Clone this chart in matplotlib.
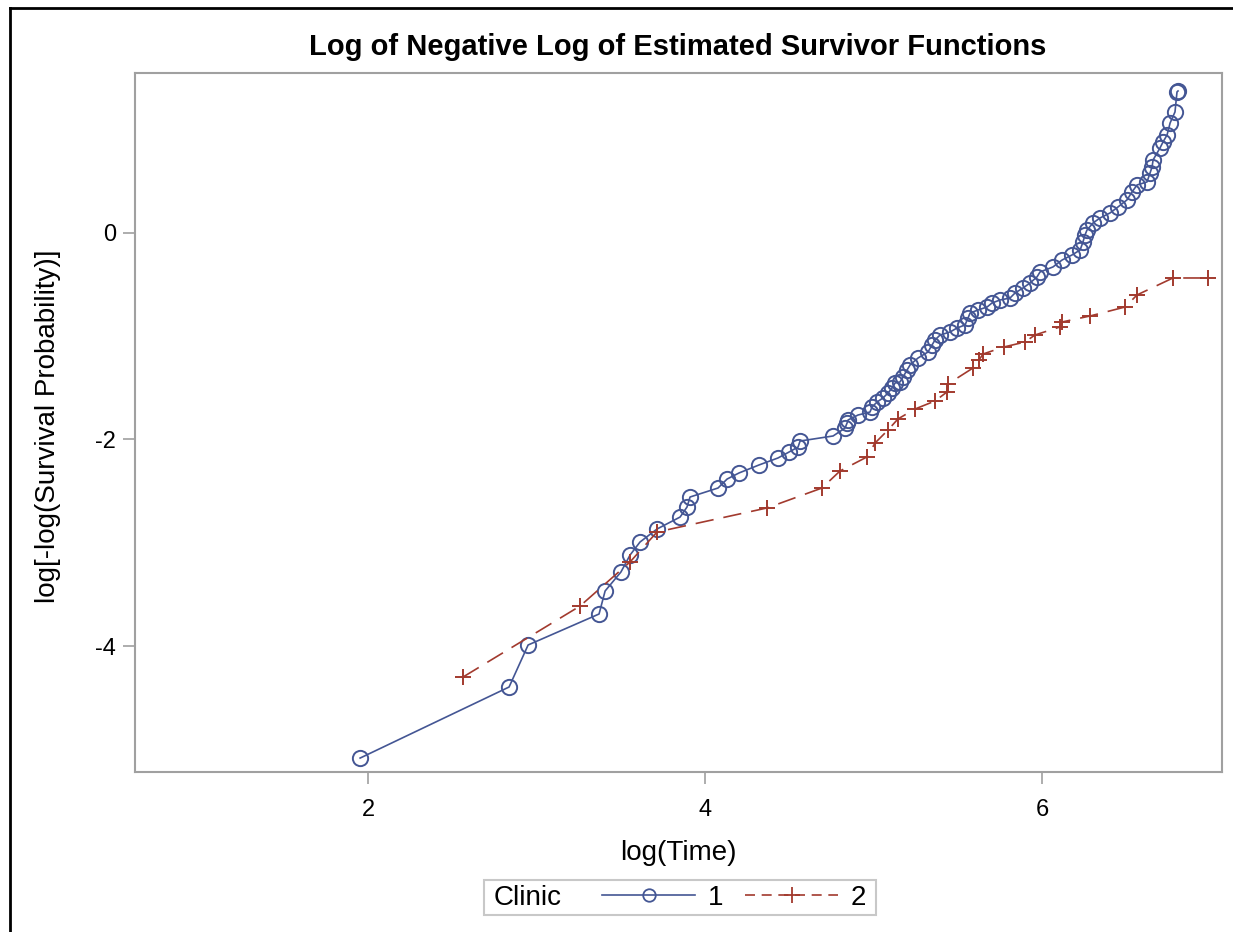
import matplotlib
matplotlib.use("Agg")
import matplotlib.pyplot as plt
from matplotlib.lines import Line2D
from matplotlib.patches import Rectangle

plt.rcParams['font.family'] = ['Liberation Sans', 'DejaVu Sans']

# Clinic 1 (blue circles)
c1_x = [1.953, 2.837, 2.950, 3.371, 3.407, 3.501, 3.555, 3.614, 3.715, 3.852, 3.893, 3.911,
        4.077, 4.131, 4.202, 4.320, 4.433, 4.499, 4.552, 4.564, 4.760, 4.831, 4.843, 4.849,
        4.908, 4.979, 4.991, 5.021, 5.056, 5.086, 5.110, 5.128, 5.157, 5.175, 5.199, 5.217,
        5.264, 5.323, 5.347, 5.365, 5.395, 5.454, 5.496, 5.543, 5.561, 5.573, 5.620, 5.674,
        5.703, 5.751, 5.810, 5.840, 5.887, 5.929, 5.970, 5.988, 6.065, 6.119, 6.178, 6.226,
        6.243, 6.255, 6.267, 6.303, 6.344, 6.404, 6.451, 6.504, 6.534, 6.564, 6.623, 6.641,
        6.653, 6.659, 6.700, 6.718, 6.742, 6.760, 6.789, 6.801, 6.807]
c1_y = [-5.085, -4.397, -3.990, -3.690, -3.467, -3.283, -3.119, -2.993, -2.867, -2.751, -2.654, -2.557,
        -2.470, -2.383, -2.324, -2.247, -2.179, -2.121, -2.073, -2.015, -1.966, -1.889, -1.840, -1.811,
        -1.763, -1.734, -1.685, -1.637, -1.598, -1.550, -1.501, -1.453, -1.443, -1.395, -1.327, -1.278,
        -1.211, -1.153, -1.085, -1.036, -0.988, -0.959, -0.920, -0.891, -0.823, -0.775, -0.746, -0.717,
        -0.678, -0.649, -0.630, -0.581, -0.533, -0.484, -0.426, -0.378, -0.329, -0.262, -0.213, -0.165,
        -0.087, -0.019, 0.029, 0.097, 0.145, 0.194, 0.252, 0.320, 0.397, 0.465, 0.494, 0.581,
        0.639, 0.707, 0.823, 0.881, 0.949, 1.065, 1.172, 1.366, 1.375]

# Clinic 2 (red plus)
c2_x = [2.564, 3.258, 3.555, 3.715, 4.368, 4.694, 4.801, 4.961, 5.009, 5.086, 5.145, 5.246,
        5.365, 5.436, 5.442, 5.591, 5.626, 5.650, 5.774, 5.899, 5.958, 6.107, 6.119, 6.285,
        6.493, 6.564, 6.777, 6.985]
c2_y = [-4.300, -3.613, -3.186, -2.896, -2.663, -2.470, -2.305, -2.169, -2.034, -1.908, -1.801, -1.705,
        -1.627, -1.540, -1.462, -1.307, -1.230, -1.172, -1.104, -1.056, -0.988, -0.910, -0.862, -0.804,
        -0.717, -0.600, -0.436, -0.436]

x_ticks = [2, 4, 6]
y_ticks = [-4, -2, 0]

blue = '#445694'
red = '#A23A2E'
gray = '#A0A0A0'

W, H = 1233, 932
fig = plt.figure(figsize=(W/100, H/100), dpi=100)
ax = fig.add_axes([135/W, 1-772/H, 1087/W, 699/H])

ax.plot(c1_x, c1_y, color=blue, lw=1.2, marker='o', ms=11, mfc='none', mec=blue, mew=1.4, label='1')
ax.plot(c2_x, c2_y, color=red, lw=1.2, ls=(0, (11, 6)), marker='+', ms=12, mec=red, mew=1.4, label='2')

ax.set_xlim(0.617, 7.068)
ax.set_ylim(-5.22, 1.549)
ax.set_xticks(x_ticks)
ax.set_yticks(y_ticks)
ax.set_xticklabels([str(v) for v in x_ticks])
ax.set_yticklabels([str(v) for v in y_ticks])
for s in ax.spines.values():
    s.set_color(gray)
    s.set_linewidth(1.5)
ax.tick_params(direction='out', length=8.5, width=1.2, color=gray, labelsize=17)
ax.tick_params(axis='x', pad=11)
ax.tick_params(axis='y', pad=5)

ax.set_xlabel('log(Time)', fontsize=20)
ax.set_ylabel('log[-log(Survival Probability)]', fontsize=20)
ax.xaxis.set_label_coords(0.5, (772-853)/699)
ax.xaxis.label.set_va('center')
ax.yaxis.set_label_coords((48-135)/1087, 0.495)
ax.yaxis.label.set_va('center')

fig.text(678/W, 1-47/H, 'Log of Negative Log of Estimated Survivor Functions',
         fontsize=21, fontweight='bold', ha='center', va='center')

# legend
fig.add_artist(Rectangle((484/W, 1-915/H), 392/W, 35/H, transform=fig.transFigure,
                         facecolor='white', edgecolor='#C8C8C8', lw=1.5))
fig.text(494/W, 1-898/H, 'Clinic', fontsize=20, ha='left', va='center')
handles = [Line2D([], [], color=blue, lw=1.2, marker='o', ms=9, mfc='none', mec=blue, mew=1.3),
           Line2D([], [], color=red, lw=1.2, ls=(0, (6, 4)), marker='+', ms=11, mec=red, mew=1.3)]
leg = fig.legend(handles=handles, labels=['1', '2'], loc='center left',
                 bbox_to_anchor=(602/W, 1-898/H), ncol=2, fontsize=20, frameon=False,
                 handlelength=3.35, handletextpad=0.45, columnspacing=0.8, borderpad=0,
                 borderaxespad=0)

# outer black border (top and left)
fig.add_artist(Line2D([10/W, 1.0], [1-8/H, 1-8/H], color='black', lw=2, transform=fig.transFigure))
fig.add_artist(Line2D([10/W, 10/W], [0, 1-8/H], color='black', lw=2, transform=fig.transFigure))

fig.savefig('out.png', dpi=100)
